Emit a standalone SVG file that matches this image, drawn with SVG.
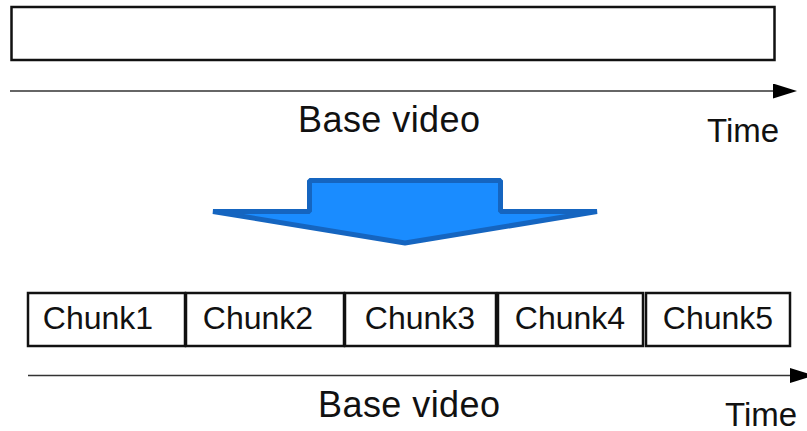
<svg xmlns="http://www.w3.org/2000/svg" width="807" height="431" viewBox="0 0 807 431">
<style>
.box{fill:#fff;stroke:#111;stroke-width:2.5}
.axis{stroke:#333;stroke-width:1.6;fill:none}
.t{font-family:"Liberation Sans",Arial,sans-serif;fill:#111}
.lbl{font-size:32px;text-anchor:middle}
.big{font-size:36px}
.time{font-size:33px}
</style>
<defs>
<marker id="ah" markerWidth="24" markerHeight="15" refX="0" refY="7.5" orient="auto" markerUnits="userSpaceOnUse">
<path d="M0,0 L24,7.5 L0,15 Z" fill="#000"/>
</marker>
</defs>
<g id="base-video-top">
<rect class="box" x="11.5" y="7" width="763" height="53"/>
</g>
<g id="connectors">
<line class="axis" x1="10" y1="91" x2="773" y2="91" marker-end="url(#ah)"/>
<line class="axis" x1="28" y1="375.5" x2="790" y2="375.5" marker-end="url(#ah)"/>
</g>
<g id="labels-top">
<text class="t big" x="298" y="132" textLength="182" lengthAdjust="spacing">Base video</text>
<text class="t time" x="707" y="142">Time</text>
</g>
<g id="transform-arrow">
<path d="M309.5,180.5 H500.5 V211.5 H597 L405,243 L213,211.5 H309.5 Z" fill="#1a8cff" stroke="#1565c0" stroke-width="5" stroke-linejoin="bevel"/>
</g>
<g id="chunk1"><rect class="box" x="28" y="293" width="157" height="53"/><text class="t lbl" x="98" y="329">Chunk1</text></g>
<g id="chunk2"><rect class="box" x="186" y="293" width="158" height="53"/><text class="t lbl" x="258" y="329">Chunk2</text></g>
<g id="chunk3"><rect class="box" x="345" y="293" width="151" height="53"/><text class="t lbl" x="420" y="329">Chunk3</text></g>
<g id="chunk4"><rect class="box" x="498" y="293" width="145" height="53"/><text class="t lbl" x="570" y="329">Chunk4</text></g>
<g id="chunk5"><rect class="box" x="646" y="293" width="144" height="53"/><text class="t lbl" x="718" y="329">Chunk5</text></g>
<g id="labels-bottom">
<text class="t big" x="318" y="417" textLength="182" lengthAdjust="spacing">Base video</text>
<text class="t time" x="725" y="426">Time</text>
</g>
</svg>
